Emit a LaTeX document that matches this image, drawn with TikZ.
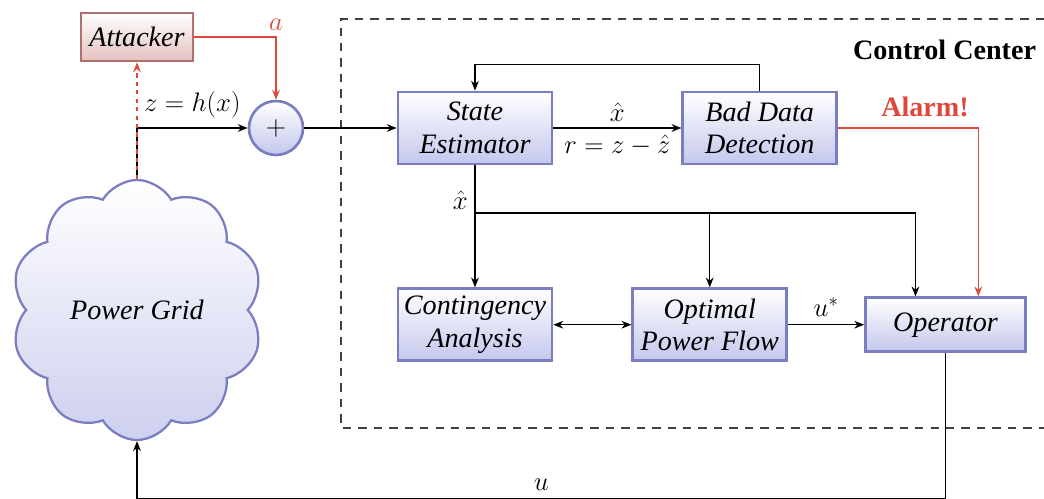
\RequirePackage{fix-cm}
\documentclass[tikz,border=0pt]{standalone}
\usepackage{fontspec}
\setmainfont{Liberation Serif}
\usepackage{tikz}
\usetikzlibrary{positioning, shapes.symbols, arrows.meta}

\definecolor{boxline}{RGB}{122,126,192}
\definecolor{boxfill}{RGB}{196,199,236}
\definecolor{attline}{RGB}{176,112,112}
\definecolor{attfill}{RGB}{228,192,192}
\definecolor{alarmred}{RGB}{222,72,58}

\newcommand\boxfont{\fontsize{20}{23}\selectfont}
\newcommand\labelfont{\fontsize{19}{22}\selectfont}

\tikzset{
  block/.style={draw=boxline, line width=1.9pt, top color=white, bottom color=boxfill,
    minimum width=3.85cm, minimum height=1.8cm, align=center, font=\boxfont\itshape},
  attackbox/.style={draw=attline, line width=1.9pt, top color=white, bottom color=attfill,
    minimum width=2.8cm, minimum height=1.2cm, font=\boxfont\itshape},
  junction/.style={circle, draw=boxline, line width=1.9pt, top color=white,
    bottom color=boxfill, minimum size=1.35cm, inner sep=0pt, font=\boxfont},
  gridcloud/.style={cloud, cloud puffs=10, cloud puff arc=120, cloud ignores aspect,
    draw=boxline, line width=1.6pt, top color=white, bottom color=boxfill!85,
    minimum width=6.3cm, minimum height=6.5cm, font=\boxfont\itshape},
  signal/.style={line width=1pt},
  attack/.style={line width=1.1pt, draw=alarmred},
  ccframe/.style={draw=black!75, line width=0.8pt, dash pattern=on 6pt off 5pt}
}

\begin{document}
\begin{tikzpicture}[x=0.025cm, y=-0.025cm, >={Stealth[length=7pt, width=5.5pt]},
    font=\labelfont]
    \useasboundingbox (0,0) rectangle (1044,499);

    % control center frame
    \draw[ccframe] (1044,19) -- (341,19) -- (341,428) -- (1044,428);
    \node[anchor=east, font=\boxfont\bfseries] (cc) at (1041,50) {Control Center};

    \node[gridcloud] (grid) at (137,310) {Power Grid};
    \node[attackbox] (att) at (137,37) {Attacker};
    \node[junction] (plus) at (276,128) {$+$};

    \node[block] (SE) at (475,128) {State\\Estimator};
    \node[block, right=3.2cm of SE] (BDD) {Bad Data\\Detection};
    \node[block, below=3.05cm of SE] (CA) {Contingency\\Analysis};
    \node[block, right=1.95cm of CA] (OPF) {Optimal\\Power Flow};
    \node[block, minimum width=4cm, minimum height=1.35cm, right=1.9cm of OPF] (OP) {Operator};

    \coordinate (split) at (475,213);

    % measurements and attack
    \draw[signal, ->] (grid.north) |- (plus.west) node[pos=0.75, above=3pt] {$z=h(x)$};
    \draw[attack, dashed, ->] (grid.north) -- (att.south);
    \draw[attack, ->] (att.east) -| (plus.north) node[pos=0.5, above=1pt, text=alarmred] {$a$};
    \draw[signal, ->] (plus.east) -- (SE.west);

    % estimation loop
    \draw[signal, ->] (SE.east) -- (BDD.west)
      node[midway, above=1pt] {$\hat{x}$}
      node[midway, below=1pt] {$r=z-\hat{z}$};
    \draw[signal, ->] (BDD.north) -- ++(0,-26) -| (SE.north);
    \draw[attack, ->] (BDD.east) -| ([xshift=0.82cm]OP.north)
      node[pos=0.31, above=4pt, text=alarmred, font=\boxfont\bfseries] {Alarm!};

    % state distribution
    \draw[signal, ->] (SE.south) -- (CA.north);
    \node[anchor=south east, inner sep=2pt, xshift=-3pt] (xhat) at (split) {$\hat{x}$};
    \draw[signal, ->] (split) -| ([xshift=-0.75cm]OP.north);
    \draw[signal, ->] (split -| OPF.north) -- (OPF.north);

    \draw[signal, <->] (CA) -- (OPF);
    \draw[signal, ->] (OPF) -- (OP) node[midway, above=2pt] {$u^{*}$};

    % control feedback
    \draw[signal, ->] (OP.south) -- ++(0,146) -| (grid.south) node[pos=0.25, above=2pt] {$u$};
\end{tikzpicture}
\end{document}
